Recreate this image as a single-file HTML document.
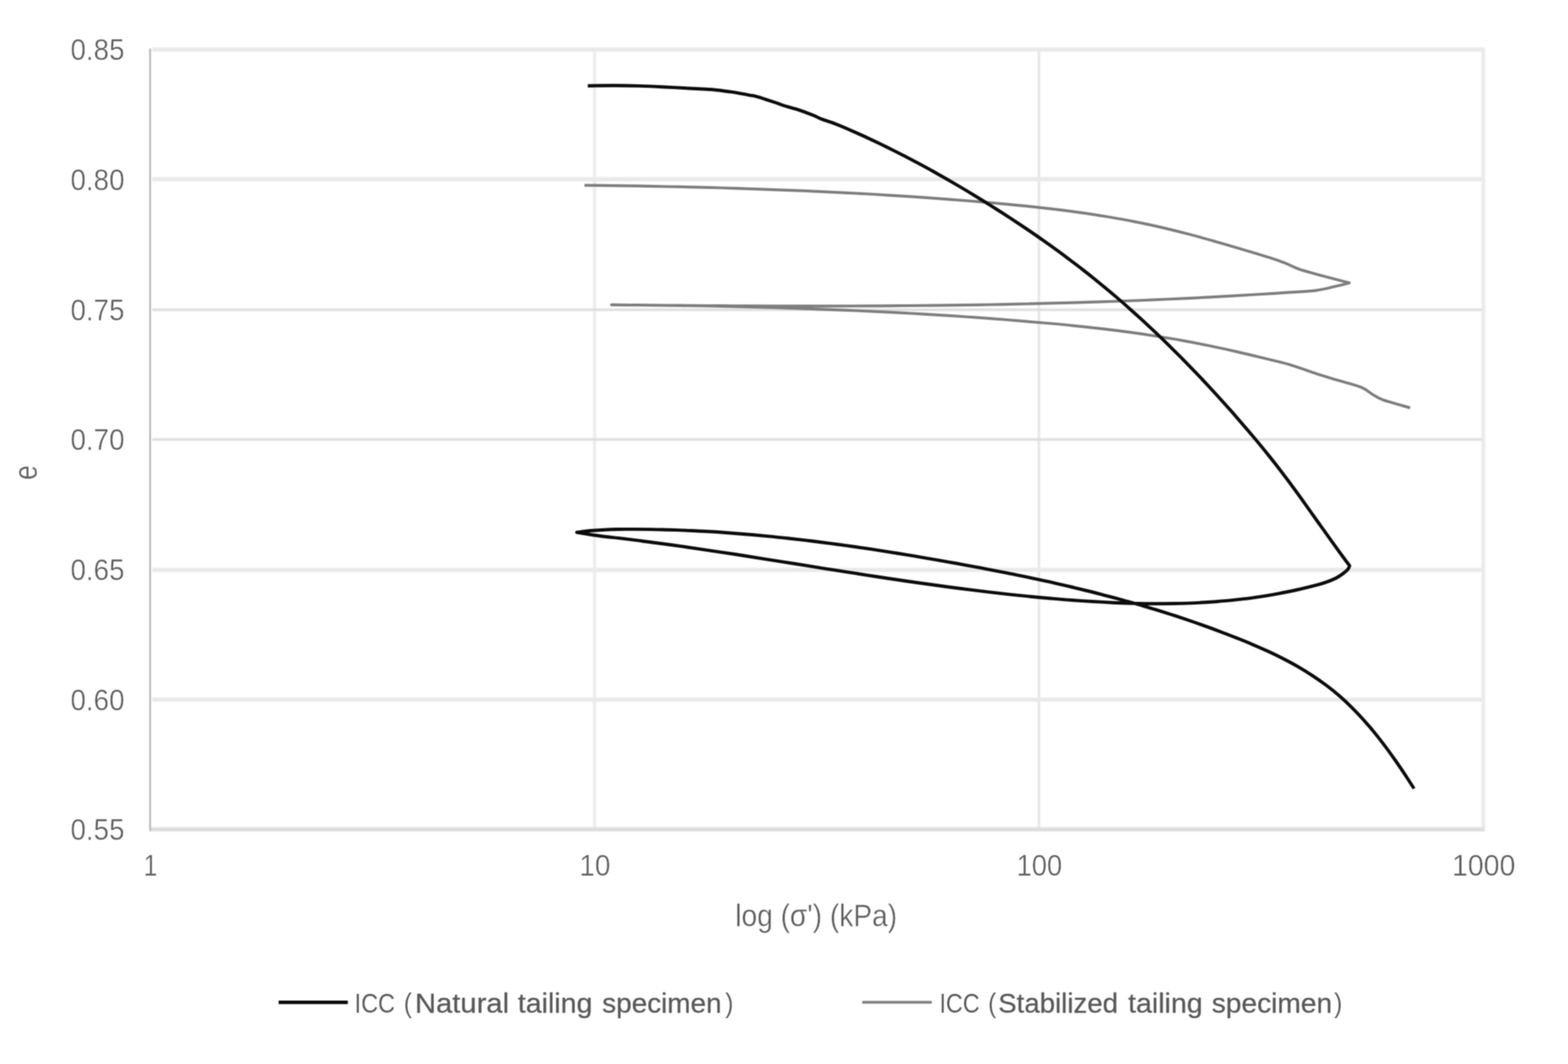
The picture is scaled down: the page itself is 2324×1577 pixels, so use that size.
<!DOCTYPE html>
<html lang="en">
<head>
<meta charset="utf-8">
<title>Isotropic compression curves</title>
<style>
html,body{margin:0;padding:0;background:#fff;}
body{width:2324px;height:1577px;overflow:hidden;}
svg{display:block;}
text{font-family:"Liberation Sans",sans-serif;}
</style>
</head>
<body>
<svg width="2324" height="1577" viewBox="0 0 2324 1577">
<defs><filter id="soft" color-interpolation-filters="sRGB" filterUnits="userSpaceOnUse" x="0" y="0" width="2324" height="1577"><feConvolveMatrix order="3" kernelMatrix="1 2 1 2 4 2 1 2 1" edgeMode="duplicate" preserveAlpha="true"/></filter><filter id="soft2" color-interpolation-filters="sRGB" filterUnits="userSpaceOnUse" x="0" y="0" width="2324" height="1577"><feConvolveMatrix order="3" kernelMatrix="1 2 1 2 4 2 1 2 1" edgeMode="none" preserveAlpha="false"/></filter></defs>
<g filter="url(#soft)">
<rect x="0" y="0" width="2324" height="1577" fill="#ffffff"/>
<g filter="url(#soft2)">
<g fill="none">
<line x1="881.2" y1="73.4" x2="881.2" y2="1229.2" stroke="#ededed" stroke-width="5.0"/>
<line x1="1539.8" y1="73.4" x2="1539.8" y2="1229.2" stroke="#e5e5e5" stroke-width="3.6"/>
<line x1="225.5" y1="73.4" x2="2200.0" y2="73.4" stroke="#e9e9e9" stroke-width="6.2"/>
<line x1="225.5" y1="265.7" x2="2200.0" y2="265.7" stroke="#e9e9e9" stroke-width="6.2"/>
<line x1="225.5" y1="459.2" x2="2200.0" y2="459.2" stroke="#dddddd" stroke-width="3.8"/>
<line x1="225.5" y1="651.4" x2="2200.0" y2="651.4" stroke="#dddddd" stroke-width="3.8"/>
<line x1="225.5" y1="844.6" x2="2200.0" y2="844.6" stroke="#e9e9e9" stroke-width="6.2"/>
<line x1="225.5" y1="1037.0" x2="2200.0" y2="1037.0" stroke="#e9e9e9" stroke-width="6.2"/>
</g>
<line x1="2198.5" y1="71.9" x2="2198.5" y2="1231.7" stroke="#ebebeb" stroke-width="5.8"/>
<line x1="222.5" y1="1229.2" x2="2200.0" y2="1229.2" stroke="#dcdcdc" stroke-width="6.0"/>
</g>
<line x1="222.5" y1="71.9" x2="222.5" y2="1231.7" stroke="#b5b5b5" stroke-width="2.6"/>
<path d="M866.2 274.6 C873.0 274.7 893.3 274.9 906.9 275.1 C920.5 275.3 934.1 275.5 947.7 275.7 C961.3 275.9 975.0 276.2 988.6 276.5 C1002.2 276.8 1015.9 277.1 1029.5 277.4 C1043.2 277.7 1056.8 278.1 1070.5 278.5 C1084.2 278.9 1097.8 279.3 1111.5 279.8 C1125.2 280.3 1138.8 280.8 1152.5 281.3 C1166.2 281.8 1179.9 282.3 1193.6 282.9 C1207.3 283.5 1220.9 284.1 1234.6 284.8 C1248.3 285.5 1261.9 286.1 1275.6 286.9 C1289.3 287.6 1302.9 288.5 1316.6 289.3 C1330.2 290.1 1343.9 291.0 1357.5 291.9 C1371.1 292.8 1384.8 293.8 1398.4 294.8 C1412.0 295.8 1425.6 296.9 1439.2 298.0 C1452.8 299.1 1466.3 300.3 1479.9 301.5 C1493.5 302.7 1507.1 304.0 1520.6 305.4 C1534.1 306.8 1547.6 308.3 1561.1 309.9 C1574.6 311.5 1588.0 313.2 1601.5 315.1 C1615.0 317.0 1628.4 319.1 1641.8 321.3 C1655.2 323.6 1668.6 326.0 1681.9 328.6 C1695.2 331.2 1708.6 334.0 1721.9 337.1 C1735.2 340.2 1748.5 343.5 1761.7 347.0 C1774.9 350.5 1788.1 354.2 1801.3 357.9 C1814.5 361.6 1827.7 365.5 1840.8 369.4 C1853.9 373.3 1869.3 377.9 1880.0 381.3 C1890.7 384.7 1897.5 387.1 1905.0 390.0 C1912.5 392.9 1916.7 395.9 1925.0 398.8 C1933.3 401.7 1942.5 404.1 1955.0 407.5 C1967.5 410.9 1992.5 417.3 2000.0 419.3 C1996.7 420.1 1988.3 422.4 1980.0 424.3 C1971.7 426.2 1961.7 429.1 1950.0 430.6 C1938.3 432.1 1923.3 432.5 1909.9 433.4 C1896.5 434.3 1883.2 435.2 1869.8 436.0 C1856.4 436.8 1843.1 437.6 1829.8 438.4 C1816.5 439.2 1803.1 439.9 1789.7 440.6 C1776.3 441.3 1762.9 442.0 1749.5 442.6 C1736.1 443.2 1722.8 443.8 1709.4 444.4 C1696.0 445.0 1682.7 445.5 1669.3 446.0 C1655.9 446.5 1642.6 447.0 1629.2 447.4 C1615.8 447.8 1602.4 448.2 1589.0 448.6 C1575.6 449.0 1562.3 449.4 1548.9 449.7 C1535.5 450.0 1522.1 450.4 1508.7 450.7 C1495.3 451.0 1482.0 451.3 1468.6 451.5 C1455.2 451.7 1441.8 451.9 1428.4 452.1 C1415.0 452.3 1401.7 452.5 1388.3 452.6 C1374.9 452.8 1361.5 452.9 1348.1 453.0 C1334.7 453.1 1321.3 453.2 1307.9 453.3 C1294.5 453.4 1281.2 453.4 1267.8 453.5 C1254.4 453.6 1241.0 453.6 1227.6 453.6 C1214.2 453.6 1200.8 453.6 1187.4 453.6 C1174.0 453.6 1160.7 453.5 1147.3 453.5 C1133.9 453.5 1120.5 453.5 1107.1 453.4 C1093.7 453.3 1080.3 453.2 1066.9 453.1 C1053.5 453.0 1040.2 453.0 1026.8 452.9 C1013.4 452.8 1000.0 452.6 986.6 452.5 C973.2 452.4 959.9 452.3 946.5 452.2 C933.1 452.1 913.0 451.9 906.3 451.8 C913.0 451.9 933.2 452.0 946.6 452.1 C960.0 452.2 973.5 452.4 986.9 452.6 C1000.3 452.8 1013.8 453.0 1027.2 453.2 C1040.7 453.4 1054.1 453.6 1067.6 453.9 C1081.1 454.2 1094.5 454.5 1108.0 454.9 C1121.5 455.2 1135.0 455.6 1148.5 456.0 C1162.0 456.4 1175.4 456.8 1188.9 457.3 C1202.4 457.8 1215.9 458.3 1229.4 458.8 C1242.9 459.3 1256.3 459.9 1269.8 460.5 C1283.3 461.1 1296.8 461.7 1310.3 462.4 C1323.8 463.1 1337.2 463.8 1350.7 464.5 C1364.2 465.2 1377.6 466.1 1391.1 466.9 C1404.5 467.7 1418.0 468.6 1431.4 469.5 C1444.8 470.4 1458.3 471.4 1471.7 472.4 C1485.1 473.4 1498.6 474.5 1512.0 475.6 C1525.4 476.7 1538.8 477.8 1552.2 479.0 C1565.6 480.2 1578.9 481.4 1592.3 482.8 C1605.7 484.2 1619.1 485.6 1632.4 487.2 C1645.8 488.8 1659.1 490.4 1672.4 492.2 C1685.7 494.0 1698.9 495.9 1712.2 498.0 C1725.5 500.1 1738.8 502.2 1752.0 504.6 C1765.2 507.0 1778.5 509.6 1791.7 512.3 C1804.9 515.0 1818.1 517.9 1831.3 520.9 C1844.5 523.9 1857.6 527.1 1870.7 530.3 C1883.8 533.5 1896.8 536.1 1910.0 540.0 C1923.2 543.9 1938.3 549.7 1950.0 553.5 C1961.7 557.3 1968.8 559.4 1980.0 562.8 C1991.2 566.2 2008.3 570.3 2017.5 574.0 C2026.7 577.7 2029.6 581.9 2035.0 585.0 C2040.4 588.1 2040.8 589.5 2050.0 592.8 C2059.2 596.0 2083.3 602.5 2090.0 604.5" fill="none" stroke="#7e7e7e" stroke-width="4.2" stroke-linejoin="round" stroke-linecap="butt"/>
<path d="M871.2 127.2 C877.7 127.1 897.3 126.8 910.0 126.8 C922.7 126.8 935.0 127.0 947.5 127.4 C960.0 127.8 972.5 128.4 985.0 129.0 C997.5 129.6 1012.0 130.4 1022.4 131.0 C1032.8 131.6 1041.2 131.9 1047.4 132.3 C1053.7 132.7 1053.7 132.5 1059.9 133.2 C1066.2 133.9 1076.6 135.1 1084.9 136.4 C1093.2 137.7 1103.7 139.7 1109.9 140.8 C1116.2 142.0 1118.2 142.2 1122.4 143.3 C1126.6 144.4 1130.3 145.8 1134.9 147.3 C1139.5 148.8 1145.0 150.6 1150.0 152.3 C1155.0 154.0 1159.4 155.8 1165.0 157.5 C1170.6 159.2 1177.0 160.6 1183.7 162.8 C1190.4 165.0 1199.3 168.5 1205.0 170.8 C1210.7 173.1 1213.3 174.8 1218.0 176.6 C1222.7 178.4 1228.8 180.1 1233.0 181.6 C1237.2 183.1 1237.7 183.4 1243.0 185.6 C1248.3 187.8 1258.0 191.9 1265.0 195.0 C1272.0 198.1 1278.3 200.9 1285.0 204.0 C1291.7 207.1 1298.3 210.2 1304.9 213.4 C1311.5 216.6 1318.0 219.8 1324.6 223.1 C1331.1 226.4 1337.7 229.7 1344.2 233.1 C1350.7 236.5 1357.2 239.9 1363.7 243.4 C1370.2 246.9 1376.7 250.4 1383.1 254.0 C1389.5 257.6 1395.9 261.2 1402.3 264.9 C1408.7 268.6 1415.1 272.3 1421.4 276.0 C1427.8 279.7 1434.1 283.5 1440.4 287.3 C1446.7 291.1 1453.0 295.0 1459.2 298.9 C1465.4 302.8 1471.6 306.7 1477.8 310.6 C1484.0 314.5 1490.2 318.5 1496.3 322.5 C1502.4 326.5 1508.5 330.5 1514.6 334.6 C1520.7 338.7 1526.7 342.8 1532.7 346.9 C1538.7 351.0 1544.7 355.3 1550.7 359.5 C1556.7 363.7 1562.6 368.0 1568.5 372.3 C1574.4 376.6 1580.2 381.0 1586.1 385.4 C1591.9 389.8 1597.8 394.2 1603.6 398.7 C1609.4 403.2 1615.1 407.7 1620.8 412.3 C1626.5 416.9 1632.2 421.6 1637.9 426.3 C1643.6 431.0 1649.2 435.7 1654.8 440.5 C1660.4 445.3 1665.9 450.1 1671.4 455.0 C1676.9 459.9 1682.5 464.8 1687.9 469.8 C1693.4 474.8 1698.7 479.8 1704.1 484.8 C1709.5 489.8 1714.9 494.9 1720.2 500.0 C1725.5 505.1 1730.8 510.2 1736.0 515.4 C1741.2 520.5 1746.4 525.7 1751.6 530.9 C1756.8 536.1 1761.9 541.4 1767.0 546.7 C1772.1 552.0 1777.1 557.2 1782.1 562.5 C1787.1 567.8 1792.1 573.2 1797.1 578.6 C1802.1 584.0 1807.0 589.4 1811.9 594.8 C1816.8 600.2 1821.7 605.7 1826.5 611.2 C1831.3 616.7 1836.1 622.2 1840.9 627.8 C1845.7 633.3 1850.5 638.9 1855.2 644.5 C1860.0 650.1 1864.7 655.8 1869.4 661.5 C1874.1 667.2 1878.6 672.9 1883.2 678.6 C1887.8 684.3 1892.3 690.1 1896.8 695.9 C1901.3 701.7 1905.7 707.6 1910.1 713.5 C1914.5 719.4 1918.8 725.3 1923.1 731.2 C1927.4 737.1 1931.7 743.1 1935.9 749.1 C1940.2 755.1 1944.3 761.0 1948.6 767.0 C1952.8 773.0 1957.1 778.9 1961.4 784.9 C1965.7 790.9 1969.9 796.9 1974.2 802.9 C1978.5 808.9 1982.8 814.8 1987.1 820.7 C1991.4 826.6 1998.1 835.5 2000.3 838.4 C1999.9 839.2 1999.5 841.6 1998.0 843.5 C1996.5 845.4 1994.0 847.6 1991.1 849.8 C1988.2 852.0 1984.8 854.4 1980.8 856.5 C1976.8 858.6 1971.6 860.7 1967.0 862.4 C1962.4 864.1 1960.6 864.7 1953.3 866.6 C1946.0 868.5 1933.2 871.8 1923.2 874.0 C1913.2 876.2 1903.1 878.2 1893.0 880.1 C1882.9 882.0 1872.8 883.6 1862.7 885.1 C1852.6 886.6 1842.5 887.8 1832.4 888.9 C1822.3 890.0 1812.1 890.9 1802.0 891.7 C1791.9 892.5 1781.8 893.1 1771.6 893.6 C1761.4 894.1 1751.3 894.3 1741.1 894.5 C1730.9 894.7 1720.8 894.8 1710.6 894.8 C1700.4 894.8 1690.3 894.6 1680.1 894.3 C1669.9 894.0 1659.8 893.7 1649.6 893.2 C1639.4 892.7 1629.3 892.1 1619.1 891.5 C1608.9 890.9 1598.8 890.2 1588.6 889.5 C1578.4 888.8 1568.3 887.9 1558.1 887.0 C1547.9 886.1 1537.8 885.2 1527.6 884.2 C1517.4 883.2 1507.2 882.2 1497.1 881.1 C1486.9 880.0 1476.8 878.8 1466.7 877.6 C1456.6 876.4 1446.4 875.2 1436.2 873.9 C1426.0 872.6 1416.0 871.4 1405.8 870.0 C1395.6 868.6 1385.4 867.2 1375.3 865.8 C1365.2 864.4 1355.0 863.0 1344.9 861.5 C1334.8 860.0 1324.6 858.5 1314.5 857.0 C1304.4 855.5 1294.2 853.9 1284.1 852.3 C1274.0 850.7 1263.8 849.2 1253.7 847.6 C1243.6 846.0 1233.4 844.4 1223.3 842.8 C1213.2 841.2 1203.1 839.5 1193.0 837.9 C1182.9 836.3 1172.7 834.7 1162.6 833.1 C1152.5 831.5 1142.4 829.9 1132.3 828.3 C1122.2 826.7 1112.1 825.1 1102.0 823.5 C1091.9 821.9 1081.7 820.3 1071.6 818.8 C1061.5 817.3 1051.4 815.8 1041.3 814.3 C1031.2 812.8 1021.1 811.3 1011.0 809.9 C1000.9 808.5 990.9 807.1 980.8 805.7 C970.7 804.3 960.6 803.0 950.5 801.7 C940.4 800.4 930.3 799.1 920.2 797.9 C910.1 796.7 900.9 796.0 890.0 794.5 C879.1 793.0 860.8 789.9 855.0 789.0 C859.2 788.5 870.0 787.0 880.0 786.3 C890.0 785.5 905.0 784.8 915.0 784.5 C925.0 784.2 931.9 784.4 940.3 784.4 C948.7 784.4 957.1 784.5 965.5 784.6 C973.9 784.7 982.4 785.0 990.8 785.2 C999.2 785.5 1007.6 785.8 1016.0 786.1 C1024.4 786.5 1032.9 786.8 1041.3 787.3 C1049.7 787.8 1058.1 788.2 1066.5 788.8 C1074.9 789.4 1083.3 790.0 1091.7 790.7 C1100.1 791.4 1108.5 792.1 1116.9 792.8 C1125.3 793.5 1133.7 794.3 1142.1 795.1 C1150.5 795.9 1158.8 796.9 1167.2 797.8 C1175.6 798.7 1184.0 799.6 1192.4 800.6 C1200.8 801.6 1209.1 802.6 1217.5 803.7 C1225.9 804.8 1234.2 805.9 1242.6 807.0 C1251.0 808.1 1259.3 809.3 1267.7 810.5 C1276.1 811.7 1284.4 812.9 1292.7 814.2 C1301.0 815.5 1309.4 816.8 1317.7 818.1 C1326.0 819.4 1334.4 820.7 1342.7 822.1 C1351.0 823.5 1359.4 824.9 1367.7 826.3 C1376.0 827.7 1384.3 829.1 1392.6 830.6 C1400.9 832.1 1409.2 833.5 1417.5 835.0 C1425.8 836.5 1434.0 838.1 1442.3 839.6 C1450.6 841.1 1458.8 842.7 1467.1 844.3 C1475.4 845.9 1483.7 847.5 1491.9 849.1 C1500.2 850.7 1508.4 852.4 1516.6 854.1 C1524.8 855.8 1533.0 857.6 1541.2 859.4 C1549.4 861.2 1557.6 862.9 1565.8 864.8 C1574.0 866.6 1582.2 868.5 1590.4 870.5 C1598.6 872.5 1606.8 874.5 1614.9 876.5 C1623.1 878.5 1631.2 880.7 1639.3 882.8 C1647.4 884.9 1655.6 887.1 1663.7 889.3 C1671.8 891.5 1680.0 893.9 1688.1 896.2 C1696.2 898.6 1704.2 900.9 1712.3 903.4 C1720.4 905.9 1728.4 908.4 1736.5 911.0 C1744.6 913.6 1752.7 916.3 1760.7 919.0 C1768.7 921.7 1776.7 924.5 1784.7 927.4 C1792.7 930.3 1800.8 933.2 1808.7 936.2 C1816.7 939.2 1824.6 942.3 1832.4 945.4 C1840.2 948.5 1848.1 951.6 1855.8 954.9 C1863.5 958.2 1871.2 961.5 1878.8 965.0 C1886.4 968.5 1894.0 972.2 1901.4 976.0 C1908.8 979.8 1916.2 983.7 1923.4 987.9 C1930.6 992.1 1937.8 996.5 1944.8 1001.1 C1951.8 1005.7 1958.6 1010.4 1965.3 1015.4 C1972.0 1020.4 1978.6 1025.7 1984.9 1031.2 C1991.2 1036.7 1997.4 1042.5 2003.4 1048.4 C2009.4 1054.3 2015.2 1060.5 2020.9 1066.8 C2026.6 1073.1 2032.1 1079.6 2037.5 1086.2 C2042.9 1092.8 2048.1 1099.6 2053.2 1106.4 C2058.3 1113.2 2063.2 1120.1 2068.1 1127.0 C2072.9 1133.9 2077.7 1140.9 2082.3 1147.9 C2086.9 1154.9 2093.6 1165.3 2095.8 1168.8" fill="none" stroke="#0c0c0c" stroke-width="4.9" stroke-linejoin="round" stroke-linecap="butt"/>
<g fill="#5c5c5c" font-size="44.5" text-anchor="end" stroke="#ffffff" stroke-width="0.55" stroke-linejoin="round">
<text x="184.5" y="89.2" textLength="80" lengthAdjust="spacingAndGlyphs">0.85</text>
<text x="184.5" y="281.5" textLength="80" lengthAdjust="spacingAndGlyphs">0.80</text>
<text x="184.5" y="475.0" textLength="80" lengthAdjust="spacingAndGlyphs">0.75</text>
<text x="184.5" y="667.2" textLength="80" lengthAdjust="spacingAndGlyphs">0.70</text>
<text x="184.5" y="860.4" textLength="80" lengthAdjust="spacingAndGlyphs">0.65</text>
<text x="184.5" y="1052.8" textLength="80" lengthAdjust="spacingAndGlyphs">0.60</text>
<text x="184.5" y="1245.1" textLength="80" lengthAdjust="spacingAndGlyphs">0.55</text>
</g>
<g fill="#5c5c5c" font-size="44.5" text-anchor="middle" stroke="#ffffff" stroke-width="0.55" stroke-linejoin="round">
<text x="223.0" y="1297.5" textLength="20.5" lengthAdjust="spacingAndGlyphs">1</text>
<text x="881.8" y="1297.5" textLength="46" lengthAdjust="spacingAndGlyphs">10</text>
<text x="1540.6" y="1297.5" textLength="67.5" lengthAdjust="spacingAndGlyphs">100</text>
<text x="2199.0" y="1297.5" textLength="94" lengthAdjust="spacingAndGlyphs">1000</text>
</g>
<text x="1209.7" y="1372.8" fill="#5c5c5c" font-size="46" text-anchor="middle" stroke="#ffffff" stroke-width="0.5" textLength="240" lengthAdjust="spacingAndGlyphs">log (σ') (kPa)</text>
<text transform="translate(55.0 700.3) rotate(-90) scale(0.85 1.08)" fill="#5c5c5c" font-size="46" stroke="#ffffff" stroke-width="0.5" text-anchor="middle">e</text>
<line x1="413" y1="1485.6" x2="515.5" y2="1485.6" stroke="#0c0c0c" stroke-width="5.2" stroke-linecap="butt"/>
<line x1="1278" y1="1485.6" x2="1381" y2="1485.6" stroke="#7e7e7e" stroke-width="4.0" stroke-linecap="butt"/>
<text y="1501.4" fill="#595959" font-size="40.5" xml:space="preserve"><tspan x="525.5" textLength="60.0" lengthAdjust="spacingAndGlyphs" stroke="#ffffff" stroke-width="0.15">ICC</tspan><tspan> </tspan><tspan x="598.5" textLength="12.0" lengthAdjust="spacingAndGlyphs" stroke="#ffffff" stroke-width="0.15">(</tspan><tspan x="615.0" textLength="139.5" lengthAdjust="spacingAndGlyphs" stroke="#595959" stroke-width="0.35">Natural</tspan><tspan> </tspan><tspan x="767.5" textLength="110.5" lengthAdjust="spacingAndGlyphs" stroke="#595959" stroke-width="0.35">tailing</tspan><tspan> </tspan><tspan x="892.5" textLength="177.0" lengthAdjust="spacingAndGlyphs" stroke="#595959" stroke-width="0.35">specimen</tspan><tspan x="1075.0" textLength="12.0" lengthAdjust="spacingAndGlyphs" stroke="#ffffff" stroke-width="0.15">)</tspan></text>
<text y="1501.4" fill="#595959" font-size="40.5" xml:space="preserve"><tspan x="1392.5" textLength="59.5" lengthAdjust="spacingAndGlyphs" stroke="#ffffff" stroke-width="0.15">ICC</tspan><tspan> </tspan><tspan x="1464.5" textLength="12.0" lengthAdjust="spacingAndGlyphs" stroke="#ffffff" stroke-width="0.15">(</tspan><tspan x="1479.5" textLength="177.5" lengthAdjust="spacingAndGlyphs" stroke="#595959" stroke-width="0.35">Stabilized</tspan><tspan> </tspan><tspan x="1672.0" textLength="110.5" lengthAdjust="spacingAndGlyphs" stroke="#595959" stroke-width="0.35">tailing</tspan><tspan> </tspan><tspan x="1796.0" textLength="178.5" lengthAdjust="spacingAndGlyphs" stroke="#595959" stroke-width="0.35">specimen</tspan><tspan x="1977.5" textLength="12.0" lengthAdjust="spacingAndGlyphs" stroke="#ffffff" stroke-width="0.15">)</tspan></text>
</g>
</svg>
</body>
</html>
